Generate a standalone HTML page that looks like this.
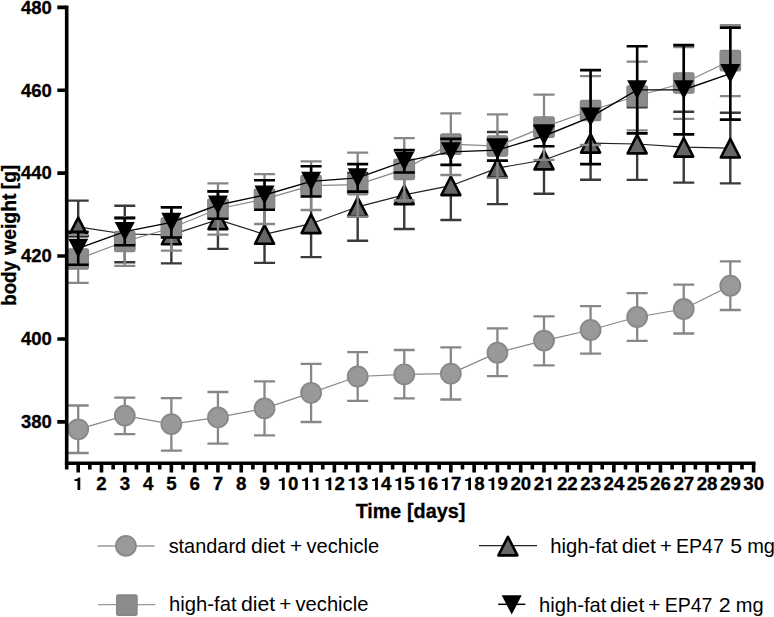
<!DOCTYPE html>
<html><head><meta charset="utf-8"><title>chart</title>
<style>html,body{margin:0;padding:0;background:#fff}svg{display:block}</style></head>
<body>
<svg width="774" height="617" viewBox="0 0 774 617">
<rect width="774" height="617" fill="#fff"/>
<g id="data">
<polyline points="78.2,429.3 124.78,415.6 171.36,424.1 217.94,417.4 264.52,408.4 311.1,392.8 357.68,376.5 404.26,374.4 450.84,373.6 497.42,352.7 544,340.6 590.58,330 637.16,317 683.74,309 730.32,285.7" fill="none" stroke="#888888" stroke-width="1.25"/>
<path d="M78.2 405.5V453M67.7 405.5H88.7M67.7 453H88.7M124.78 397.7V434.2M114.28 397.7H135.28M114.28 434.2H135.28M171.36 398.2V450.7M160.86 398.2H181.86M160.86 450.7H181.86M217.94 392V443.7M207.44 392H228.44M207.44 443.7H228.44M264.52 381.4V435.4M254.02 381.4H275.02M254.02 435.4H275.02M311.1 363.9V422M300.6 363.9H321.6M300.6 422H321.6M357.68 352.2V400.8M347.18 352.2H368.18M347.18 400.8H368.18M404.26 350V398.4M393.76 350H414.76M393.76 398.4H414.76M450.84 347.3V399.5M440.34 347.3H461.34M440.34 399.5H461.34M497.42 328.4V376.2M486.92 328.4H507.92M486.92 376.2H507.92M544 316.3V365.4M533.5 316.3H554.5M533.5 365.4H554.5M590.58 306.2V353.7M580.08 306.2H601.08M580.08 353.7H601.08M637.16 293.2V340.8M626.66 293.2H647.66M626.66 340.8H647.66M683.74 284.7V333.5M673.24 284.7H694.24M673.24 333.5H694.24M730.32 261.4V310M719.82 261.4H740.82M719.82 310H740.82" fill="none" stroke="#878787" stroke-width="2.3"/>
<circle cx="78.2" cy="429.3" r="10" fill="#999999" stroke="#888888" stroke-width="1.8"/>
<circle cx="124.78" cy="415.6" r="10" fill="#999999" stroke="#888888" stroke-width="1.8"/>
<circle cx="171.36" cy="424.1" r="10" fill="#999999" stroke="#888888" stroke-width="1.8"/>
<circle cx="217.94" cy="417.4" r="10" fill="#999999" stroke="#888888" stroke-width="1.8"/>
<circle cx="264.52" cy="408.4" r="10" fill="#999999" stroke="#888888" stroke-width="1.8"/>
<circle cx="311.1" cy="392.8" r="10" fill="#999999" stroke="#888888" stroke-width="1.8"/>
<circle cx="357.68" cy="376.5" r="10" fill="#999999" stroke="#888888" stroke-width="1.8"/>
<circle cx="404.26" cy="374.4" r="10" fill="#999999" stroke="#888888" stroke-width="1.8"/>
<circle cx="450.84" cy="373.6" r="10" fill="#999999" stroke="#888888" stroke-width="1.8"/>
<circle cx="497.42" cy="352.7" r="10" fill="#999999" stroke="#888888" stroke-width="1.8"/>
<circle cx="544" cy="340.6" r="10" fill="#999999" stroke="#888888" stroke-width="1.8"/>
<circle cx="590.58" cy="330" r="10" fill="#999999" stroke="#888888" stroke-width="1.8"/>
<circle cx="637.16" cy="317" r="10" fill="#999999" stroke="#888888" stroke-width="1.8"/>
<circle cx="683.74" cy="309" r="10" fill="#999999" stroke="#888888" stroke-width="1.8"/>
<circle cx="730.32" cy="285.7" r="10" fill="#999999" stroke="#888888" stroke-width="1.8"/>
<polyline points="78.2,226.8 124.78,234 171.36,234.9 217.94,219.7 264.52,234.4 311.1,223.7 357.68,206.8 404.26,194.8 450.84,185.7 497.42,168.1 544,160 590.58,143.2 637.16,144 683.74,147.2 730.32,148.1" fill="none" stroke="#222" stroke-width="1.2"/>
<path d="M78.2 200.6V253M67.7 200.6H88.7M67.7 253H88.7M124.78 205.7V262.2M114.28 205.7H135.28M114.28 262.2H135.28M171.36 207.3V263.4M160.86 207.3H181.86M160.86 263.4H181.86M217.94 191.3V248.9M207.44 191.3H228.44M207.44 248.9H228.44M264.52 206V262.9M254.02 206H275.02M254.02 262.9H275.02M311.1 190.3V257.1M300.6 190.3H321.6M300.6 257.1H321.6M357.68 172.9V240.7M347.18 172.9H368.18M347.18 240.7H368.18M404.26 160.6V229M393.76 160.6H414.76M393.76 229H414.76M450.84 151.4V220M440.34 151.4H461.34M440.34 220H461.34M497.42 132V204.1M486.92 132H507.92M486.92 204.1H507.92M544 126.2V193.8M533.5 126.2H554.5M533.5 193.8H554.5M590.58 106.6V179.8M580.08 106.6H601.08M580.08 179.8H601.08M637.16 107.2V179.9M626.66 107.2H647.66M626.66 179.9H647.66M683.74 111.7V182.6M673.24 111.7H694.24M673.24 182.6H694.24M730.32 112.7V183.4M719.82 112.7H740.82M719.82 183.4H740.82" fill="none" stroke="#3a3a3a" stroke-width="2.4"/>
<path d="M78.2 217.6L87.7 236.2H68.7Z" fill="#666" stroke="#000" stroke-width="2.6" stroke-linejoin="round"/>
<path d="M124.78 224.8L134.28 243.4H115.28Z" fill="#666" stroke="#000" stroke-width="2.6" stroke-linejoin="round"/>
<path d="M171.36 225.7L180.86 244.3H161.86Z" fill="#666" stroke="#000" stroke-width="2.6" stroke-linejoin="round"/>
<path d="M217.94 210.5L227.44 229.1H208.44Z" fill="#666" stroke="#000" stroke-width="2.6" stroke-linejoin="round"/>
<path d="M264.52 225.2L274.02 243.8H255.02Z" fill="#666" stroke="#000" stroke-width="2.6" stroke-linejoin="round"/>
<path d="M311.1 214.5L320.6 233.1H301.6Z" fill="#666" stroke="#000" stroke-width="2.6" stroke-linejoin="round"/>
<path d="M357.68 197.6L367.18 216.2H348.18Z" fill="#666" stroke="#000" stroke-width="2.6" stroke-linejoin="round"/>
<path d="M404.26 185.6L413.76 204.2H394.76Z" fill="#666" stroke="#000" stroke-width="2.6" stroke-linejoin="round"/>
<path d="M450.84 176.5L460.34 195.1H441.34Z" fill="#666" stroke="#000" stroke-width="2.6" stroke-linejoin="round"/>
<path d="M497.42 158.9L506.92 177.5H487.92Z" fill="#666" stroke="#000" stroke-width="2.6" stroke-linejoin="round"/>
<path d="M544 150.8L553.5 169.4H534.5Z" fill="#666" stroke="#000" stroke-width="2.6" stroke-linejoin="round"/>
<path d="M590.58 134L600.08 152.6H581.08Z" fill="#666" stroke="#000" stroke-width="2.6" stroke-linejoin="round"/>
<path d="M637.16 134.8L646.66 153.4H627.66Z" fill="#666" stroke="#000" stroke-width="2.6" stroke-linejoin="round"/>
<path d="M683.74 138L693.24 156.6H674.24Z" fill="#666" stroke="#000" stroke-width="2.6" stroke-linejoin="round"/>
<path d="M730.32 138.9L739.82 157.5H720.82Z" fill="#666" stroke="#000" stroke-width="2.6" stroke-linejoin="round"/>
<polyline points="78.2,259 124.78,241.5 171.36,228 217.94,209 264.52,199.1 311.1,185.7 357.68,184.7 404.26,169.3 450.84,144.2 497.42,146 544,127.2 590.58,110.5 637.16,96 683.74,83 730.32,60.7" fill="none" stroke="#888888" stroke-width="1.25"/>
<path d="M78.2 235.1V282.9M67.7 235.1H88.7M67.7 282.9H88.7M124.78 217.2V265.8M114.28 217.2H135.28M114.28 265.8H135.28M171.36 207.1V250.7M160.86 207.1H181.86M160.86 250.7H181.86M217.94 183.3V234.6M207.44 183.3H228.44M207.44 234.6H228.44M264.52 174.1V224M254.02 174.1H275.02M254.02 224H275.02M311.1 161.4V210M300.6 161.4H321.6M300.6 210H321.6M357.68 152.7V216.7M347.18 152.7H368.18M347.18 216.7H368.18M404.26 138.2V200.5M393.76 138.2H414.76M393.76 200.5H414.76M450.84 113.4V175M440.34 113.4H461.34M440.34 175H461.34M497.42 114.3V177.8M486.92 114.3H507.92M486.92 177.8H507.92M544 94.6V159.9M533.5 94.6H554.5M533.5 159.9H554.5M590.58 76.1V145M580.08 76.1H601.08M580.08 145H601.08M637.16 61.7V130.3M626.66 61.7H647.66M626.66 130.3H647.66M683.74 47.2V118.9M673.24 47.2H694.24M673.24 118.9H694.24M730.32 25.1V96.2M719.82 25.1H740.82M719.82 96.2H740.82" fill="none" stroke="#878787" stroke-width="2.3"/>
<rect x="68" y="248.8" width="20.4" height="20.4" rx="1.6" fill="#8b8b8b" stroke="#858585" stroke-width="1.3"/>
<rect x="114.58" y="231.3" width="20.4" height="20.4" rx="1.6" fill="#8b8b8b" stroke="#858585" stroke-width="1.3"/>
<rect x="161.16" y="217.8" width="20.4" height="20.4" rx="1.6" fill="#8b8b8b" stroke="#858585" stroke-width="1.3"/>
<rect x="207.74" y="198.8" width="20.4" height="20.4" rx="1.6" fill="#8b8b8b" stroke="#858585" stroke-width="1.3"/>
<rect x="254.32" y="188.9" width="20.4" height="20.4" rx="1.6" fill="#8b8b8b" stroke="#858585" stroke-width="1.3"/>
<rect x="300.9" y="175.5" width="20.4" height="20.4" rx="1.6" fill="#8b8b8b" stroke="#858585" stroke-width="1.3"/>
<rect x="347.48" y="174.5" width="20.4" height="20.4" rx="1.6" fill="#8b8b8b" stroke="#858585" stroke-width="1.3"/>
<rect x="394.06" y="159.1" width="20.4" height="20.4" rx="1.6" fill="#8b8b8b" stroke="#858585" stroke-width="1.3"/>
<rect x="440.64" y="134" width="20.4" height="20.4" rx="1.6" fill="#8b8b8b" stroke="#858585" stroke-width="1.3"/>
<rect x="487.22" y="135.8" width="20.4" height="20.4" rx="1.6" fill="#8b8b8b" stroke="#858585" stroke-width="1.3"/>
<rect x="533.8" y="117" width="20.4" height="20.4" rx="1.6" fill="#8b8b8b" stroke="#858585" stroke-width="1.3"/>
<rect x="580.38" y="100.3" width="20.4" height="20.4" rx="1.6" fill="#8b8b8b" stroke="#858585" stroke-width="1.3"/>
<rect x="626.96" y="85.8" width="20.4" height="20.4" rx="1.6" fill="#8b8b8b" stroke="#858585" stroke-width="1.3"/>
<rect x="673.54" y="72.8" width="20.4" height="20.4" rx="1.6" fill="#8b8b8b" stroke="#858585" stroke-width="1.3"/>
<rect x="720.12" y="50.5" width="20.4" height="20.4" rx="1.6" fill="#8b8b8b" stroke="#858585" stroke-width="1.3"/>
<path d="M78.2 231.9V264.7M67.7 231.9H88.7M67.7 264.7H88.7M124.78 218.1V245.2M114.28 218.1H135.28M114.28 245.2H135.28M171.36 207.3V237.5M160.86 207.3H181.86M160.86 237.5H181.86M217.94 191.4V218.7M207.44 191.4H228.44M207.44 218.7H228.44M264.52 180.2V209.7M254.02 180.2H275.02M254.02 209.7H275.02M311.1 166.3V196.5M300.6 166.3H321.6M300.6 196.5H321.6M357.68 164.1V191.6M347.18 164.1H368.18M347.18 191.6H368.18M404.26 150.1V172.5M393.76 150.1H414.76M393.76 172.5H414.76M450.84 138.9V164.9M440.34 138.9H461.34M440.34 164.9H461.34M497.42 139.6V160.6M486.92 139.6H507.92M486.92 160.6H507.92M544 125.6V146.3M533.5 125.6H554.5M533.5 146.3H554.5M590.58 70.1V164.1M580.08 70.1H601.08M580.08 164.1H601.08M637.16 46.2V133.4M626.66 46.2H647.66M626.66 133.4H647.66M683.74 45.1V134.4M673.24 45.1H694.24M673.24 134.4H694.24M730.32 27.6V119.6M719.82 27.6H740.82M719.82 119.6H740.82" fill="none" stroke="#000" stroke-width="2.6"/>
<path d="M68.2 238.7H88.2L78.2 257.8Z" fill="#000"/>
<path d="M114.78 222H134.78L124.78 241.1Z" fill="#000"/>
<path d="M161.36 212.8H181.36L171.36 231.9Z" fill="#000"/>
<path d="M207.94 195.4H227.94L217.94 214.5Z" fill="#000"/>
<path d="M254.52 185.4H274.52L264.52 204.5Z" fill="#000"/>
<path d="M301.1 171.8H321.1L311.1 190.9Z" fill="#000"/>
<path d="M347.68 168.3H367.68L357.68 187.4Z" fill="#000"/>
<path d="M394.26 151.7H414.26L404.26 170.8Z" fill="#000"/>
<path d="M440.84 142.3H460.84L450.84 161.4Z" fill="#000"/>
<path d="M487.42 140.5H507.42L497.42 159.6Z" fill="#000"/>
<path d="M534 126.4H554L544 145.5Z" fill="#000"/>
<path d="M580.58 107.5H600.58L590.58 126.6Z" fill="#000"/>
<path d="M627.16 80.2H647.16L637.16 99.3Z" fill="#000"/>
<path d="M673.74 80.15H693.74L683.74 99.25Z" fill="#000"/>
<path d="M720.32 64H740.32L730.32 83.1Z" fill="#000"/>
<polyline points="78.2,248.3 124.78,231.6 171.36,222.4 217.94,205 264.52,195 311.1,181.4 357.68,177.9 404.26,161.3 450.84,151.9 497.42,150.1 544,136 590.58,117.1 637.16,89.8 683.74,89.75 730.32,73.6" fill="none" stroke="#000" stroke-width="1.35"/>
</g>
<g id="axes">
<path d="M66.7 5.5V469.6" stroke="#000" stroke-width="3.6" fill="none"/>
<path d="M64.9 463.3H755.5" stroke="#000" stroke-width="3.6" fill="none"/>
<path d="M57.3 7.35H66M57.3 90.25H66M57.3 173.15H66M57.3 256.05H66M57.3 338.95H66M57.3 421.85H66" stroke="#000" stroke-width="3.6" fill="none"/>
<path d="M78.2 463V472.5M89.84 463V469.6M101.49 463V472.5M113.14 463V469.6M124.78 463V472.5M136.43 463V469.6M148.07 463V472.5M159.72 463V469.6M171.36 463V472.5M183.01 463V469.6M194.65 463V472.5M206.29 463V469.6M217.94 463V472.5M229.59 463V469.6M241.23 463V472.5M252.88 463V469.6M264.52 463V472.5M276.16 463V469.6M287.81 463V472.5M299.45 463V469.6M311.1 463V472.5M322.74 463V469.6M334.39 463V472.5M346.03 463V469.6M357.68 463V472.5M369.32 463V469.6M380.97 463V472.5M392.61 463V469.6M404.26 463V472.5M415.9 463V469.6M427.55 463V472.5M439.19 463V469.6M450.84 463V472.5M462.48 463V469.6M474.13 463V472.5M485.77 463V469.6M497.42 463V472.5M509.06 463V469.6M520.71 463V472.5M532.36 463V469.6M544 463V472.5M555.64 463V469.6M567.29 463V472.5M578.93 463V469.6M590.58 463V472.5M602.23 463V469.6M613.87 463V472.5M625.51 463V469.6M637.16 463V472.5M648.81 463V469.6M660.45 463V472.5M672.1 463V469.6M683.74 463V472.5M695.38 463V469.6M707.03 463V472.5M718.67 463V469.6M730.32 463V472.5M741.97 463V469.6M753.61 463V472.5" stroke="#000" stroke-width="3.6" fill="none"/>
</g>
<g id="legend">
<path d="M97.4 546H154.5M98 604.6H155.3" stroke="#999" stroke-width="1.3" fill="none"/>
<circle cx="125.9" cy="545.9" r="10" fill="#999999" stroke="#888888" stroke-width="1.8"/>
<rect x="116.65" y="594.9" width="20.4" height="20.4" rx="1.6" fill="#8b8b8b" stroke="#858585" stroke-width="1.3"/>
<path d="M479 545.6H537" stroke="#222" stroke-width="1.2" fill="none"/>
<path d="M507.9 536.8L517.4 555.4H498.4Z" fill="#666" stroke="#000" stroke-width="2.6" stroke-linejoin="round"/>
<path d="M501.7 595.3H521.7L511.7 614.4Z" fill="#000"/>
<path d="M498.2 604.3H525.3" stroke="#000" stroke-width="1.5" fill="none"/>
</g>
<g id="text" fill="#000">
<text x="20.95" y="13.65" textLength="30.85" lengthAdjust="spacingAndGlyphs" style="font-family:'Liberation Sans',sans-serif;font-weight:bold;font-size:18.2px;stroke:#000;stroke-width:0.3px">480</text>
<text x="20.95" y="96.55" textLength="30.85" lengthAdjust="spacingAndGlyphs" style="font-family:'Liberation Sans',sans-serif;font-weight:bold;font-size:18.2px;stroke:#000;stroke-width:0.3px">460</text>
<text x="20.95" y="179.45" textLength="30.85" lengthAdjust="spacingAndGlyphs" style="font-family:'Liberation Sans',sans-serif;font-weight:bold;font-size:18.2px;stroke:#000;stroke-width:0.3px">440</text>
<text x="20.95" y="262.35" textLength="30.85" lengthAdjust="spacingAndGlyphs" style="font-family:'Liberation Sans',sans-serif;font-weight:bold;font-size:18.2px;stroke:#000;stroke-width:0.3px">420</text>
<text x="20.95" y="345.25" textLength="30.85" lengthAdjust="spacingAndGlyphs" style="font-family:'Liberation Sans',sans-serif;font-weight:bold;font-size:18.2px;stroke:#000;stroke-width:0.3px">400</text>
<text x="20.95" y="428.15" textLength="30.85" lengthAdjust="spacingAndGlyphs" style="font-family:'Liberation Sans',sans-serif;font-weight:bold;font-size:18.2px;stroke:#000;stroke-width:0.3px">380</text>
<path transform="translate(73.09 489.9)" d="M4.4 0V-8.8H1.3V-10.6C3.2 -10.6 4.9 -11.3 5.3 -12.4H7.2V0Z"/>
<text x="96.39" y="489.9" textLength="10.41" lengthAdjust="spacingAndGlyphs" style="font-family:'Liberation Sans',sans-serif;font-weight:bold;font-size:18px;stroke:#000;stroke-width:0.3px">2</text>
<text x="119.67" y="489.9" textLength="10.41" lengthAdjust="spacingAndGlyphs" style="font-family:'Liberation Sans',sans-serif;font-weight:bold;font-size:18px;stroke:#000;stroke-width:0.3px">3</text>
<text x="142.96" y="489.9" textLength="10.41" lengthAdjust="spacingAndGlyphs" style="font-family:'Liberation Sans',sans-serif;font-weight:bold;font-size:18px;stroke:#000;stroke-width:0.3px">4</text>
<text x="166.25" y="489.9" textLength="10.41" lengthAdjust="spacingAndGlyphs" style="font-family:'Liberation Sans',sans-serif;font-weight:bold;font-size:18px;stroke:#000;stroke-width:0.3px">5</text>
<text x="189.54" y="489.9" textLength="10.41" lengthAdjust="spacingAndGlyphs" style="font-family:'Liberation Sans',sans-serif;font-weight:bold;font-size:18px;stroke:#000;stroke-width:0.3px">6</text>
<text x="212.83" y="489.9" textLength="10.41" lengthAdjust="spacingAndGlyphs" style="font-family:'Liberation Sans',sans-serif;font-weight:bold;font-size:18px;stroke:#000;stroke-width:0.3px">7</text>
<text x="236.12" y="489.9" textLength="10.41" lengthAdjust="spacingAndGlyphs" style="font-family:'Liberation Sans',sans-serif;font-weight:bold;font-size:18px;stroke:#000;stroke-width:0.3px">8</text>
<text x="259.42" y="489.9" textLength="10.41" lengthAdjust="spacingAndGlyphs" style="font-family:'Liberation Sans',sans-serif;font-weight:bold;font-size:18px;stroke:#000;stroke-width:0.3px">9</text>
<path transform="translate(277.5 489.9)" d="M4.4 0V-8.8H1.3V-10.6C3.2 -10.6 4.9 -11.3 5.3 -12.4H7.2V0Z"/>
<text x="287.91" y="489.9" textLength="10.41" lengthAdjust="spacingAndGlyphs" style="font-family:'Liberation Sans',sans-serif;font-weight:bold;font-size:18px;stroke:#000;stroke-width:0.3px">0</text>
<path transform="translate(300.79 489.9)" d="M4.4 0V-8.8H1.3V-10.6C3.2 -10.6 4.9 -11.3 5.3 -12.4H7.2V0Z"/>
<path transform="translate(311.2 489.9)" d="M4.4 0V-8.8H1.3V-10.6C3.2 -10.6 4.9 -11.3 5.3 -12.4H7.2V0Z"/>
<path transform="translate(324.08 489.9)" d="M4.4 0V-8.8H1.3V-10.6C3.2 -10.6 4.9 -11.3 5.3 -12.4H7.2V0Z"/>
<text x="334.49" y="489.9" textLength="10.41" lengthAdjust="spacingAndGlyphs" style="font-family:'Liberation Sans',sans-serif;font-weight:bold;font-size:18px;stroke:#000;stroke-width:0.3px">2</text>
<path transform="translate(347.37 489.9)" d="M4.4 0V-8.8H1.3V-10.6C3.2 -10.6 4.9 -11.3 5.3 -12.4H7.2V0Z"/>
<text x="357.78" y="489.9" textLength="10.41" lengthAdjust="spacingAndGlyphs" style="font-family:'Liberation Sans',sans-serif;font-weight:bold;font-size:18px;stroke:#000;stroke-width:0.3px">3</text>
<path transform="translate(370.66 489.9)" d="M4.4 0V-8.8H1.3V-10.6C3.2 -10.6 4.9 -11.3 5.3 -12.4H7.2V0Z"/>
<text x="381.07" y="489.9" textLength="10.41" lengthAdjust="spacingAndGlyphs" style="font-family:'Liberation Sans',sans-serif;font-weight:bold;font-size:18px;stroke:#000;stroke-width:0.3px">4</text>
<path transform="translate(393.95 489.9)" d="M4.4 0V-8.8H1.3V-10.6C3.2 -10.6 4.9 -11.3 5.3 -12.4H7.2V0Z"/>
<text x="404.36" y="489.9" textLength="10.41" lengthAdjust="spacingAndGlyphs" style="font-family:'Liberation Sans',sans-serif;font-weight:bold;font-size:18px;stroke:#000;stroke-width:0.3px">5</text>
<path transform="translate(417.24 489.9)" d="M4.4 0V-8.8H1.3V-10.6C3.2 -10.6 4.9 -11.3 5.3 -12.4H7.2V0Z"/>
<text x="427.65" y="489.9" textLength="10.41" lengthAdjust="spacingAndGlyphs" style="font-family:'Liberation Sans',sans-serif;font-weight:bold;font-size:18px;stroke:#000;stroke-width:0.3px">6</text>
<path transform="translate(440.53 489.9)" d="M4.4 0V-8.8H1.3V-10.6C3.2 -10.6 4.9 -11.3 5.3 -12.4H7.2V0Z"/>
<text x="450.94" y="489.9" textLength="10.41" lengthAdjust="spacingAndGlyphs" style="font-family:'Liberation Sans',sans-serif;font-weight:bold;font-size:18px;stroke:#000;stroke-width:0.3px">7</text>
<path transform="translate(463.82 489.9)" d="M4.4 0V-8.8H1.3V-10.6C3.2 -10.6 4.9 -11.3 5.3 -12.4H7.2V0Z"/>
<text x="474.23" y="489.9" textLength="10.41" lengthAdjust="spacingAndGlyphs" style="font-family:'Liberation Sans',sans-serif;font-weight:bold;font-size:18px;stroke:#000;stroke-width:0.3px">8</text>
<path transform="translate(487.11 489.9)" d="M4.4 0V-8.8H1.3V-10.6C3.2 -10.6 4.9 -11.3 5.3 -12.4H7.2V0Z"/>
<text x="497.52" y="489.9" textLength="10.41" lengthAdjust="spacingAndGlyphs" style="font-family:'Liberation Sans',sans-serif;font-weight:bold;font-size:18px;stroke:#000;stroke-width:0.3px">9</text>
<text x="510.4" y="489.9" textLength="10.41" lengthAdjust="spacingAndGlyphs" style="font-family:'Liberation Sans',sans-serif;font-weight:bold;font-size:18px;stroke:#000;stroke-width:0.3px">2</text>
<text x="520.81" y="489.9" textLength="10.41" lengthAdjust="spacingAndGlyphs" style="font-family:'Liberation Sans',sans-serif;font-weight:bold;font-size:18px;stroke:#000;stroke-width:0.3px">0</text>
<text x="533.69" y="489.9" textLength="10.41" lengthAdjust="spacingAndGlyphs" style="font-family:'Liberation Sans',sans-serif;font-weight:bold;font-size:18px;stroke:#000;stroke-width:0.3px">2</text>
<path transform="translate(544.1 489.9)" d="M4.4 0V-8.8H1.3V-10.6C3.2 -10.6 4.9 -11.3 5.3 -12.4H7.2V0Z"/>
<text x="556.98" y="489.9" textLength="10.41" lengthAdjust="spacingAndGlyphs" style="font-family:'Liberation Sans',sans-serif;font-weight:bold;font-size:18px;stroke:#000;stroke-width:0.3px">2</text>
<text x="567.39" y="489.9" textLength="10.41" lengthAdjust="spacingAndGlyphs" style="font-family:'Liberation Sans',sans-serif;font-weight:bold;font-size:18px;stroke:#000;stroke-width:0.3px">2</text>
<text x="580.27" y="489.9" textLength="10.41" lengthAdjust="spacingAndGlyphs" style="font-family:'Liberation Sans',sans-serif;font-weight:bold;font-size:18px;stroke:#000;stroke-width:0.3px">2</text>
<text x="590.68" y="489.9" textLength="10.41" lengthAdjust="spacingAndGlyphs" style="font-family:'Liberation Sans',sans-serif;font-weight:bold;font-size:18px;stroke:#000;stroke-width:0.3px">3</text>
<text x="603.56" y="489.9" textLength="10.41" lengthAdjust="spacingAndGlyphs" style="font-family:'Liberation Sans',sans-serif;font-weight:bold;font-size:18px;stroke:#000;stroke-width:0.3px">2</text>
<text x="613.97" y="489.9" textLength="10.41" lengthAdjust="spacingAndGlyphs" style="font-family:'Liberation Sans',sans-serif;font-weight:bold;font-size:18px;stroke:#000;stroke-width:0.3px">4</text>
<text x="626.85" y="489.9" textLength="10.41" lengthAdjust="spacingAndGlyphs" style="font-family:'Liberation Sans',sans-serif;font-weight:bold;font-size:18px;stroke:#000;stroke-width:0.3px">2</text>
<text x="637.26" y="489.9" textLength="10.41" lengthAdjust="spacingAndGlyphs" style="font-family:'Liberation Sans',sans-serif;font-weight:bold;font-size:18px;stroke:#000;stroke-width:0.3px">5</text>
<text x="650.14" y="489.9" textLength="10.41" lengthAdjust="spacingAndGlyphs" style="font-family:'Liberation Sans',sans-serif;font-weight:bold;font-size:18px;stroke:#000;stroke-width:0.3px">2</text>
<text x="660.55" y="489.9" textLength="10.41" lengthAdjust="spacingAndGlyphs" style="font-family:'Liberation Sans',sans-serif;font-weight:bold;font-size:18px;stroke:#000;stroke-width:0.3px">6</text>
<text x="673.43" y="489.9" textLength="10.41" lengthAdjust="spacingAndGlyphs" style="font-family:'Liberation Sans',sans-serif;font-weight:bold;font-size:18px;stroke:#000;stroke-width:0.3px">2</text>
<text x="683.84" y="489.9" textLength="10.41" lengthAdjust="spacingAndGlyphs" style="font-family:'Liberation Sans',sans-serif;font-weight:bold;font-size:18px;stroke:#000;stroke-width:0.3px">7</text>
<text x="696.72" y="489.9" textLength="10.41" lengthAdjust="spacingAndGlyphs" style="font-family:'Liberation Sans',sans-serif;font-weight:bold;font-size:18px;stroke:#000;stroke-width:0.3px">2</text>
<text x="707.13" y="489.9" textLength="10.41" lengthAdjust="spacingAndGlyphs" style="font-family:'Liberation Sans',sans-serif;font-weight:bold;font-size:18px;stroke:#000;stroke-width:0.3px">8</text>
<text x="720.01" y="489.9" textLength="10.41" lengthAdjust="spacingAndGlyphs" style="font-family:'Liberation Sans',sans-serif;font-weight:bold;font-size:18px;stroke:#000;stroke-width:0.3px">2</text>
<text x="730.42" y="489.9" textLength="10.41" lengthAdjust="spacingAndGlyphs" style="font-family:'Liberation Sans',sans-serif;font-weight:bold;font-size:18px;stroke:#000;stroke-width:0.3px">9</text>
<text x="743.3" y="489.9" textLength="10.41" lengthAdjust="spacingAndGlyphs" style="font-family:'Liberation Sans',sans-serif;font-weight:bold;font-size:18px;stroke:#000;stroke-width:0.3px">3</text>
<text x="753.71" y="489.9" textLength="10.41" lengthAdjust="spacingAndGlyphs" style="font-family:'Liberation Sans',sans-serif;font-weight:bold;font-size:18px;stroke:#000;stroke-width:0.3px">0</text>
<text x="168.65" y="552.8" textLength="77.44" lengthAdjust="spacingAndGlyphs" style="font-family:'Liberation Sans',sans-serif;font-size:19.8px">standard</text>
<text x="251.11" y="552.8" textLength="34.14" lengthAdjust="spacingAndGlyphs" style="font-family:'Liberation Sans',sans-serif;font-size:19.8px">diet</text>
<text x="289.98" y="552.8" textLength="12.14" lengthAdjust="spacingAndGlyphs" style="font-family:'Liberation Sans',sans-serif;font-size:19.8px">+</text>
<text x="306.53" y="552.8" textLength="72.66" lengthAdjust="spacingAndGlyphs" style="font-family:'Liberation Sans',sans-serif;font-size:19.8px">vechicle</text>
<text x="169" y="611.3" textLength="67.55" lengthAdjust="spacingAndGlyphs" style="font-family:'Liberation Sans',sans-serif;font-size:19.8px">high-fat</text>
<text x="240.91" y="611.3" textLength="34.25" lengthAdjust="spacingAndGlyphs" style="font-family:'Liberation Sans',sans-serif;font-size:19.8px">diet</text>
<text x="279.19" y="611.3" textLength="12.02" lengthAdjust="spacingAndGlyphs" style="font-family:'Liberation Sans',sans-serif;font-size:19.8px">+</text>
<text x="295.53" y="611.3" textLength="72.87" lengthAdjust="spacingAndGlyphs" style="font-family:'Liberation Sans',sans-serif;font-size:19.8px">vechicle</text>
<text x="550.3" y="552.9" textLength="67.45" lengthAdjust="spacingAndGlyphs" style="font-family:'Liberation Sans',sans-serif;font-size:19.8px">high-fat</text>
<text x="621.71" y="552.9" textLength="34.35" lengthAdjust="spacingAndGlyphs" style="font-family:'Liberation Sans',sans-serif;font-size:19.8px">diet</text>
<text x="659.91" y="552.9" textLength="11.9" lengthAdjust="spacingAndGlyphs" style="font-family:'Liberation Sans',sans-serif;font-size:19.8px">+</text>
<text x="675.99" y="552.9" textLength="47.89" lengthAdjust="spacingAndGlyphs" style="font-family:'Liberation Sans',sans-serif;font-size:19.8px">EP47</text>
<text x="730.15" y="552.9" textLength="11.85" lengthAdjust="spacingAndGlyphs" style="font-family:'Liberation Sans',sans-serif;font-size:19.8px">5</text>
<text x="747.17" y="552.9" textLength="27.82" lengthAdjust="spacingAndGlyphs" style="font-family:'Liberation Sans',sans-serif;font-size:19.8px">mg</text>
<text x="539" y="611.5" textLength="67.35" lengthAdjust="spacingAndGlyphs" style="font-family:'Liberation Sans',sans-serif;font-size:19.8px">high-fat</text>
<text x="610.01" y="611.5" textLength="34.35" lengthAdjust="spacingAndGlyphs" style="font-family:'Liberation Sans',sans-serif;font-size:19.8px">diet</text>
<text x="648.28" y="611.5" textLength="12.14" lengthAdjust="spacingAndGlyphs" style="font-family:'Liberation Sans',sans-serif;font-size:19.8px">+</text>
<text x="664.7" y="611.5" textLength="47.78" lengthAdjust="spacingAndGlyphs" style="font-family:'Liberation Sans',sans-serif;font-size:19.8px">EP47</text>
<text x="718.82" y="611.5" textLength="11.96" lengthAdjust="spacingAndGlyphs" style="font-family:'Liberation Sans',sans-serif;font-size:19.8px">2</text>
<text x="735.87" y="611.5" textLength="27.82" lengthAdjust="spacingAndGlyphs" style="font-family:'Liberation Sans',sans-serif;font-size:19.8px">mg</text>
<text x="355.68" y="517.9" textLength="45.39" lengthAdjust="spacingAndGlyphs" style="font-family:'Liberation Sans',sans-serif;font-weight:bold;font-size:19.6px;stroke:#000;stroke-width:0.3px">Time</text>
<text x="406.98" y="517.9" textLength="58.53" lengthAdjust="spacingAndGlyphs" style="font-family:'Liberation Sans',sans-serif;font-weight:bold;font-size:19.6px;stroke:#000;stroke-width:0.3px">[days]</text>
<g transform="translate(15.8 0) rotate(-90)"><text x="-305.84" y="0" textLength="44.84" lengthAdjust="spacingAndGlyphs" style="font-family:'Liberation Sans',sans-serif;font-weight:bold;font-size:19.8px;stroke:#000;stroke-width:0.3px">body</text><text x="-254.94" y="0" textLength="61.38" lengthAdjust="spacingAndGlyphs" style="font-family:'Liberation Sans',sans-serif;font-weight:bold;font-size:19.8px;stroke:#000;stroke-width:0.3px">weight</text><text x="-189.17" y="0" textLength="24.23" lengthAdjust="spacingAndGlyphs" style="font-family:'Liberation Sans',sans-serif;font-weight:bold;font-size:19.8px;stroke:#000;stroke-width:0.3px">[g]</text></g>
</g>
</svg>
</body></html>
